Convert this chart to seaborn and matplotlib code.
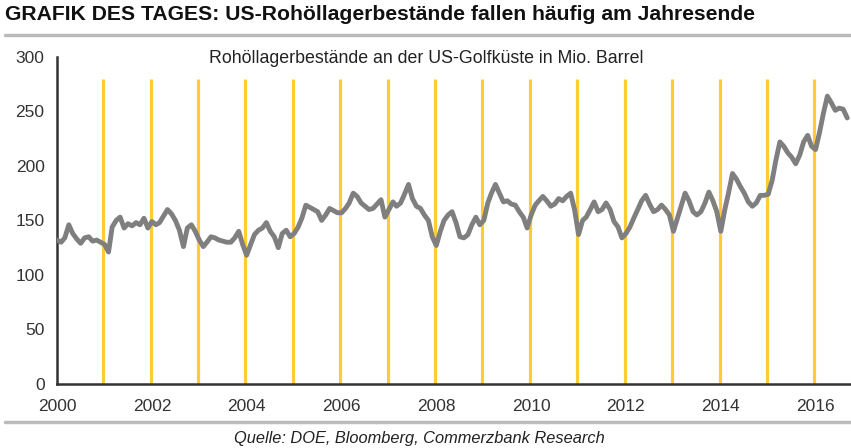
import pandas as pd
import matplotlib
matplotlib.use("Agg")
import matplotlib.pyplot as plt
import matplotlib.dates as mdates
import seaborn as sns

# Monthly crude stocks, US Gulf Coast (Mio. Barrel)
stocks_2000 = [132, 130, 134, 146, 138, 133, 129, 134, 135, 131, 132, 130]
stocks_2001 = [128, 121, 144, 150, 153, 143, 147, 145, 148, 146, 152, 143]
stocks_2002 = [149, 146, 148, 154, 160, 156, 150, 141, 126, 143, 146, 140]
stocks_2003 = [132, 126, 130, 135, 134, 132, 131, 130, 130, 134, 140, 128]
stocks_2004 = [118, 128, 137, 141, 143, 148, 140, 135, 125, 138, 141, 135]
stocks_2005 = [138, 144, 152, 164, 162, 160, 158, 150, 155, 161, 159, 157]
stocks_2006 = [157, 161, 166, 175, 172, 166, 163, 160, 161, 165, 169, 153]
stocks_2007 = [160, 167, 163, 166, 174, 183, 170, 163, 161, 155, 150, 135]
stocks_2008 = [127, 140, 150, 155, 158, 148, 135, 134, 137, 146, 153, 146]
stocks_2009 = [150, 166, 175, 183, 175, 167, 168, 165, 164, 158, 153, 143]
stocks_2010 = [155, 164, 168, 172, 168, 163, 165, 170, 168, 172, 175, 160]
stocks_2011 = [137, 150, 153, 160, 167, 158, 160, 166, 160, 149, 144, 134]
stocks_2012 = [138, 144, 152, 160, 168, 173, 165, 158, 160, 164, 160, 155]
stocks_2013 = [140, 152, 163, 175, 168, 158, 155, 158, 166, 176, 168, 158]
stocks_2014 = [140, 160, 175, 193, 188, 181, 175, 167, 163, 166, 173, 173]
stocks_2015 = [174, 187, 205, 222, 218, 212, 208, 202, 210, 222, 228, 218]
stocks_2016 = [215, 231, 248, 264, 258, 251, 253, 252, 244]

year_ends = list(range(2001, 2017))
x_ticks = list(range(2000, 2017, 2))
y_ticks = [0, 50, 100, 150, 200, 250, 300]

values = (stocks_2000 + stocks_2001 + stocks_2002 + stocks_2003 + stocks_2004
          + stocks_2005 + stocks_2006 + stocks_2007 + stocks_2008 + stocks_2009
          + stocks_2010 + stocks_2011 + stocks_2012 + stocks_2013 + stocks_2014
          + stocks_2015 + stocks_2016)
df = pd.DataFrame({
    "date": pd.date_range("2000-01-01", periods=len(values), freq="MS"),
    "stocks": values,
})

sns.set_style("white")
plt.rcParams["font.family"] = ["Liberation Sans", "DejaVu Sans"]

fig = plt.figure(figsize=(8.51, 4.48), dpi=100)
ax = fig.add_axes([0.067, 0.143, 0.933, 0.730])

# yellow year-end markers
for y in year_ends:
    ax.vlines(pd.Timestamp(y - 1, 12, 22), 0, 280, color="#FFCC33", lw=2.3, zorder=1)

sns.lineplot(data=df, x="date", y="stocks", color="#7f7f7f", lw=3.5, ax=ax, zorder=3)

ax.set_xlim(pd.Timestamp(2000, 1, 1), pd.Timestamp(2016, 9, 30))
ax.set_ylim(0, 300)
ax.set_xticks([pd.Timestamp(y, 1, 1) for y in x_ticks])
ax.xaxis.set_major_formatter(mdates.DateFormatter("%Y"))
ax.set_yticks(y_ticks)
ax.set_xlabel("")
ax.set_ylabel("")

for s in ["top", "right"]:
    ax.spines[s].set_visible(False)
for s in ["left", "bottom"]:
    ax.spines[s].set_color("#333333")
    ax.spines[s].set_linewidth(1.8)
ax.tick_params(axis="both", colors="#333333", labelcolor="#333333", labelsize=12.5,
               length=4, width=1.8, direction="out")
ax.tick_params(axis="x", pad=7)
ax.tick_params(axis="y", pad=5)

ax.text(0.465, 0.995, "Rohöllagerbestände an der US-Golfküste in Mio. Barrel",
        transform=ax.transAxes, ha="center", va="center", fontsize=12.8, color="#222222")

fig.text(0.006, 0.967, "GRAFIK DES TAGES: US-Rohöllagerbestände fallen häufig am Jahresende",
         ha="left", va="center", fontsize=15.2, fontweight="bold", color="#111111")
fig.add_artist(plt.Line2D([0.006, 1.0], [0.922, 0.922], color="#bbbbbb", lw=2.5))
fig.add_artist(plt.Line2D([0.006, 1.0], [0.058, 0.058], color="#bbbbbb", lw=2.5))
fig.text(0.493, 0.022, "Quelle: DOE, Bloomberg, Commerzbank Research",
         ha="center", va="center", fontsize=11.8, style="italic", color="#222222")

fig.savefig("out.png", dpi=100)
